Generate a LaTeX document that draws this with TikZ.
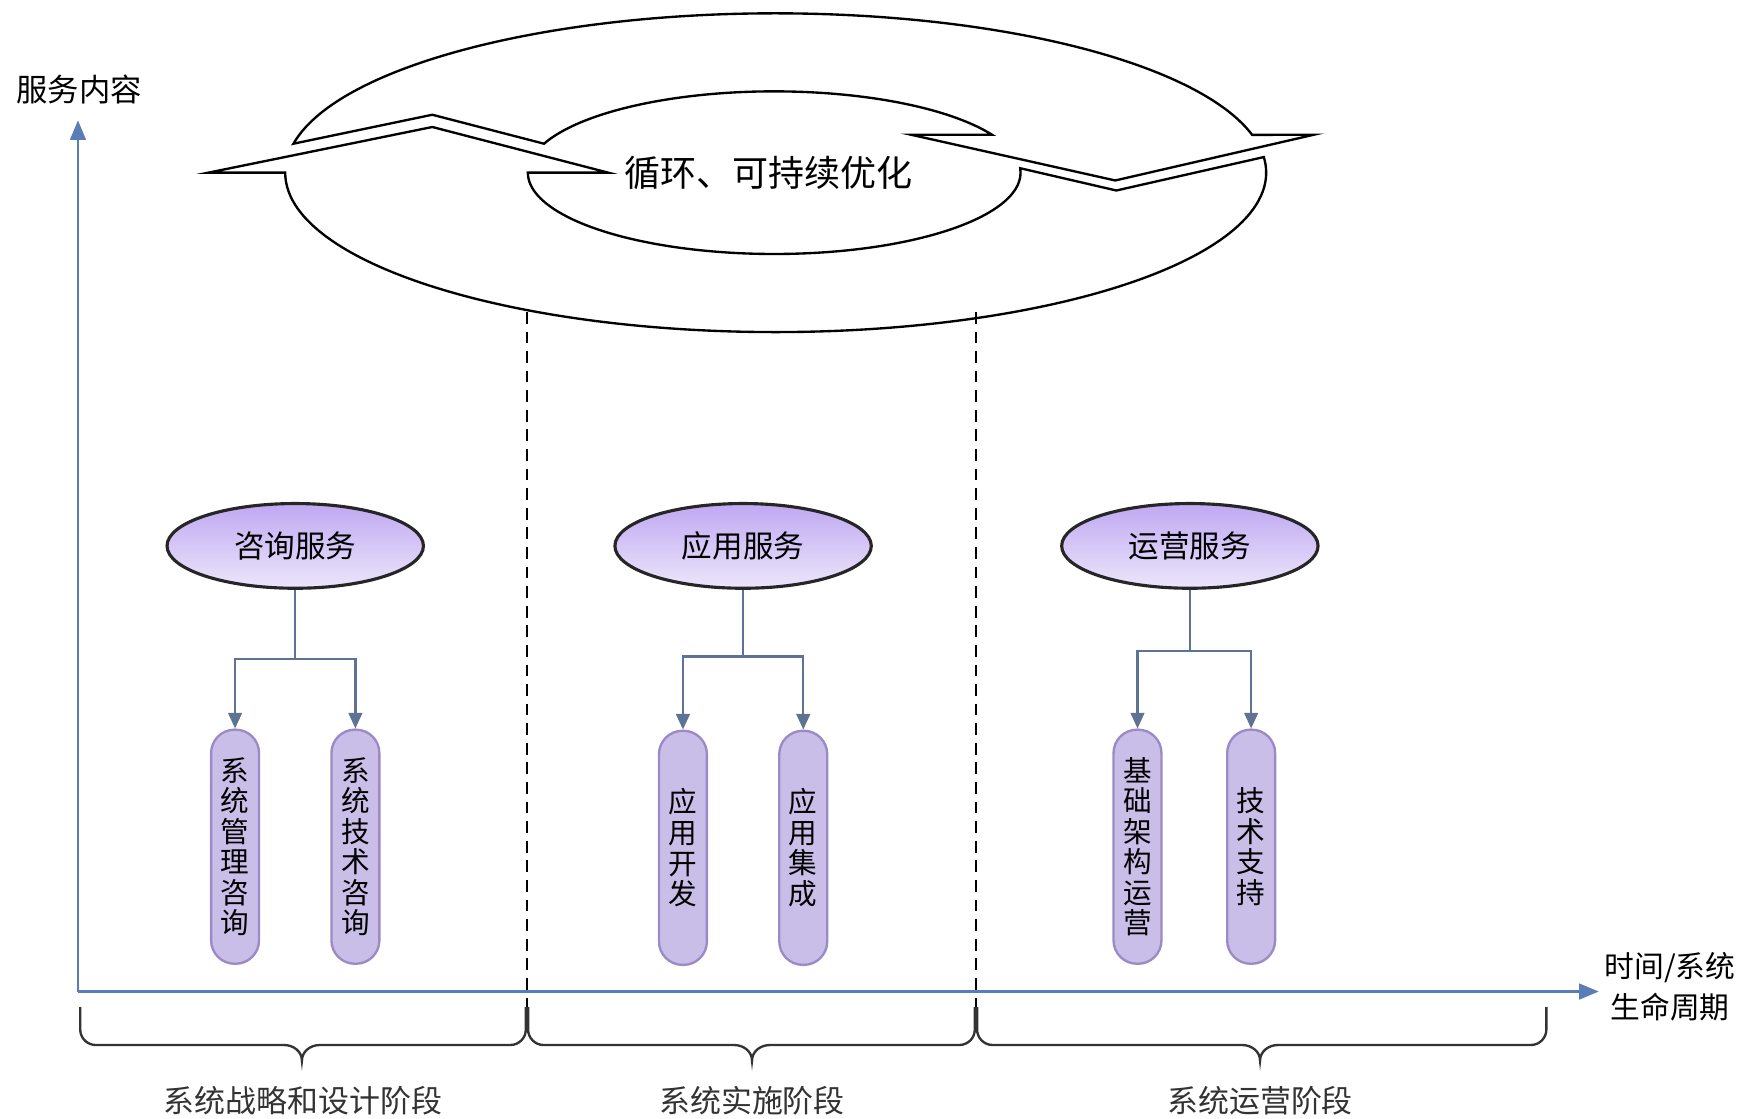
\documentclass[tikz,border=0pt]{standalone}
\usepackage{fontspec}
\setmainfont{Noto Sans CJK SC}
\usepackage{tikz}
\usetikzlibrary{shapes.geometric, arrows.meta}
\definecolor{axisblue}{HTML}{5B7DB5}
\definecolor{linkgray}{HTML}{5E7391}
\definecolor{pillfill}{HTML}{C9BEE8}
\definecolor{pillline}{HTML}{9C8AC6}
\definecolor{ovaltop}{HTML}{BFA8F2}
\definecolor{ovalbot}{HTML}{ECE6FB}
\tikzset{
    service/.style={ellipse, draw=black!85, line width=0.8pt,
        top color=ovaltop, bottom color=ovalbot,
        minimum width=2.3cm, minimum height=0.76cm, inner sep=0pt,
        font=\fontsize{7.8}{9}\selectfont},
    item/.style={rectangle, rounded corners=0.21cm, draw=pillline, line width=0.6pt,
        fill=pillfill, minimum width=0.43cm, minimum height=2.1cm, inner sep=0pt,
        align=center, font=\fontsize{7.3}{7.8}\selectfont},
    link/.style={draw=linkgray, line width=0.6pt, -{Triangle[length=4pt,width=3.5pt]}},
    axis/.style={draw=axisblue, line width=0.6pt, -{Triangle[length=5pt,width=4pt]}},
    phase/.style={font=\fontsize{7.9}{9}\selectfont, text=black!80},
}

\begin{document}
\begin{tikzpicture}[x=0.01cm, y=0.01cm]
\useasboundingbox (0,0) rectangle (1560,-1004);

% cycle ring, upper half with right head
\draw[line width=0.6pt] (263.4,-129) arc[start angle=169.5, end angle=13.76, x radius=4.4cm, y radius=1.43cm]
    -- (1179,-121) -- (1001,-162) -- (818,-121) -- (890.5,-121)
    arc[start angle=27.8, end angle=159.1, x radius=2.21cm, y radius=0.73cm]
    -- (388,-103) -- cycle;
% cycle ring, lower half with left head
\draw[line width=0.6pt] (256,-155) arc[start angle=180, end angle=365.62, x radius=4.4cm, y radius=1.43cm]
    -- (1002,-171) -- (915.7,-151)
    arc[start angle=363.1, end angle=180, x radius=2.21cm, y radius=0.73cm]
    -- (546,-155) -- (388,-114) -- (187,-155) -- cycle;
\node (loop) at (690,-155) {\fontsize{9.2}{11}\selectfont 循环、可持续优化};

% phase borders
\draw[dash pattern=on 3pt off 2pt, line width=0.5pt] (473,-280) -- (473,-930);
\draw[dash pattern=on 3pt off 2pt, line width=0.5pt] (876,-280) -- (876,-930);

% axes
\coordinate (o) at (70,-890);
\coordinate (ytip) at (70,-108);
\coordinate (xtip) at (1435,-890);
\draw[axis] (o) -- (ytip);
\draw[axis] (o) -- (xtip);
\node[font=\fontsize{8}{9}\selectfont] (ylab) at (71,-80) {服务内容};
\node[font=\fontsize{7.6}{10.5}\selectfont, align=center] (xlab) at (1499,-886) {时间/系统\\生命周期};

% services
\node[service] (zx) at (265,-490) {咨询服务};
\node[service] (yy) at (667,-490) {应用服务};
\node[service] (yx) at (1068,-490) {运营服务};

\node[item] (zx1) at (211,-760) {系\\统\\管\\理\\咨\\询};
\node[item] (zx2) at (319,-760) {系\\统\\技\\术\\咨\\询};
\node[item] (yy1) at (613,-761) {应\\用\\开\\发};
\node[item] (yy2) at (721,-761) {应\\用\\集\\成};
\node[item] (yx1) at (1021,-760) {基\\础\\架\\构\\运\\营};
\node[item] (yx2) at (1123,-760) {技\\术\\支\\持};

\draw[link] (zx.south) -- ++(0,-62) -| (zx1.north);
\draw[link] (zx.south) ++(0,-62) -| (zx2.north);
\draw[link] (yy.south) -- ++(0,-60) -| (yy1.north);
\draw[link] (yy.south) ++(0,-60) -| (yy2.north);
\draw[link] (yx.south) -- ++(0,-55) -| (yx1.north);
\draw[link] (yx.south) ++(0,-55) -| (yx2.north);

% braces under the time axis
\foreach \a/\m/\b in {72/271/472, 474/675/875, 877/1131/1388}
    \draw[line width=0.6pt, black!80] (\a,-904) -- (\a,-924) to[out=-90,in=180] (\a+14,-938)
        -- (\m-16,-938) to[out=0,in=90] (\m,-952) to[out=90,in=180] (\m+16,-938)
        -- (\b-14,-938) to[out=0,in=-90] (\b,-924) -- (\b,-904);

\node[phase] (p1) at (272,-988) {系统战略和设计阶段};
\node[phase] (p2) at (675,-988) {系统实施阶段};
\node[phase] (p3) at (1131,-988) {系统运营阶段};
\end{tikzpicture}
\end{document}
